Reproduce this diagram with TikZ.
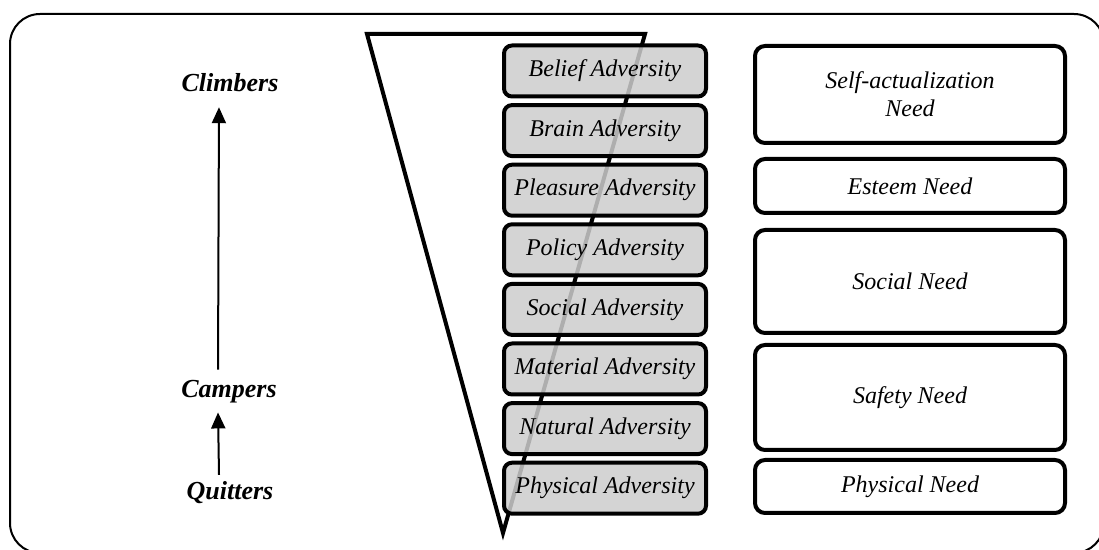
\documentclass[tikz,border=0pt]{standalone}
\usepackage{fontspec}
\setmainfont{Liberation Serif}
\usetikzlibrary{arrows.meta}
\definecolor{advgray}{RGB}{205,205,205}

\begin{document}
\begin{tikzpicture}[x=0.5pt,y=-0.5pt,
        adversity/.style={
            rectangle,
            rounded corners=4pt,
            draw=black,
            line width=2pt,
            fill=advgray,
            fill opacity=0.85,
            text opacity=1,
            minimum width=101pt,
            minimum height=25.5pt,
            inner sep=0pt,
            font=\itshape\fontsize{12}{14}\selectfont
        },
        need/.style={
            rectangle,
            rounded corners=5pt,
            draw=black,
            line width=2pt,
            fill=white,
            minimum width=155pt,
            inner sep=0pt,
            align=center,
            font=\itshape\fontsize{12}{14}\selectfont
        },
        level/.style={font=\bfseries\itshape\fontsize{13}{15}\selectfont},
        climb/.style={-{Triangle[length=8pt,width=7pt]}, line width=1pt}
    ]
        \useasboundingbox (0,0) rectangle (1099,550);
        % Frame
        \draw[line width=1pt, rounded corners=15pt] (10,14) rectangle (1104,553);
        % Funnel
        \draw[line width=2pt, line join=miter] (367,34) -- (645,34) -- (503,533) -- cycle;
        % Adversities
        \foreach \name [count=\i] in {Belief, Brain, Pleasure, Policy, Social, Material, Natural, Physical} {
            \node[adversity] (Adv-\i) at (605,{71+(\i-1)*59.6}) {\name\ Adversity};
        }
        % Needs
        \foreach \txt/\yc/\boxh [count=\i] in {{Self-actualization\\Need}/94.5/48.5, {Esteem Need}/186/27, {Social Need}/281.5/51.5, {Safety Need}/397.5/52.5, {Physical Need}/486.5/26.5} {
            \node[need, minimum height=\boxh pt] (Need-\i) at (910,\yc) {\txt};
        }
        % Levels
        \node[level] (Climbers) at (230,83) {Climbers};
        \node[level] (Campers) at (229,392) {Campers};
        \node[level] (Quitters) at (230,493) {Quitters};
        \draw[climb, shorten >=4pt, shorten <=2pt] ([xshift=-5.5pt]Campers.north) -- ([xshift=-5.5pt]Climbers.south);
        \draw[climb, shorten >=1pt] ([xshift=-5.5pt]Quitters.north) -- ([xshift=-5.5pt]Campers.south);
    \end{tikzpicture}
\end{document}
